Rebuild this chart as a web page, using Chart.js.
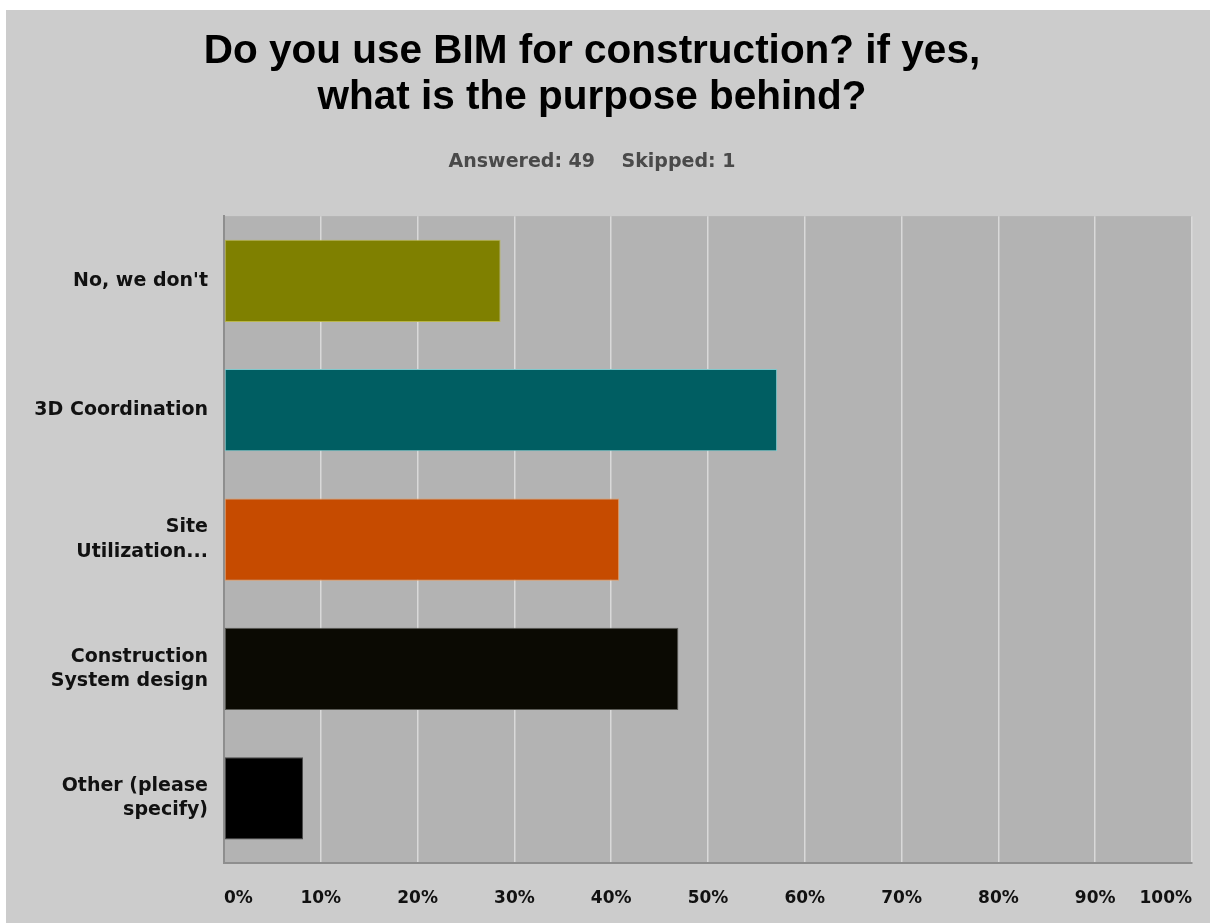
<!DOCTYPE html>
<html>
<head>
<meta charset="utf-8">
<title>BIM for construction</title>
<script src="https://cdn.jsdelivr.net/npm/chart.js@4.4.1/dist/chart.umd.min.js"></script>
<style>
  html, body { margin: 0; padding: 0; background: #ffffff; overflow: hidden; }
  #wrap { position: absolute; left: -8px; top: 10px; }
  #chart { display: block; background: #cccccc; }
  /* faixa branca da borda esquerda */
  #borda { position: absolute; left: 0; top: 0; width: 6px; height: 923px; background: #ffffff; }
</style>
</head>
<body>
<div id="wrap"><canvas id="chart" width="1225" height="913"></canvas></div>
<div id="borda"></div>
<script>
// Respostas (percentual de 49 respondentes)
const categorias = [
  "No, we don't",
  "3D Coordination",
  ["Site", "Utilization..."],
  ["Construction", "System design"],
  ["Other (please", "specify)"]
];
const percentuais = [28.57, 57.14, 40.82, 46.94, 8.16];
const coresBarras = ['#7f8000', '#005e62', '#c64b00', '#0b0a03', '#000000'];
const coresBordas = ['#b9b64a', '#7fc8cc', '#e49a62', '#5a5a55', '#4a4a4a'];
const ticksX = [0, 10, 20, 30, 40, 50, 60, 70, 80, 90, 100];

const titulo = ["Do you use BIM for construction? if yes,", "what is the purpose behind?"];
const subtitulo = "Answered: 49    Skipped: 1";

// Fundo cinza escuro só na área do gráfico
const fundoArea = {
  id: 'fundoArea',
  beforeDraw(chart) {
    const { ctx, chartArea: a } = chart;
    ctx.save();
    ctx.fillStyle = '#b3b3b3';
    ctx.fillRect(a.left, a.top, a.right - a.left, a.bottom - a.top);
    ctx.restore();
  }
};

const fonteRotulo = { family: "'DejaVu Sans', Verdana, sans-serif", weight: 'bold' };

new Chart(document.getElementById('chart'), {
  type: 'bar',
  data: {
    labels: categorias,
    datasets: [{
      data: percentuais,
      backgroundColor: coresBarras,
      borderColor: coresBordas,
      borderWidth: 1,
      borderSkipped: false,
      barPercentage: 0.635,
      categoryPercentage: 1
    }]
  },
  options: {
    indexAxis: 'y',
    responsive: false,
    animation: false,
    layout: { padding: { top: 0, right: 25, bottom: 0, left: 0 } },
    scales: {
      x: {
        min: 0,
        max: 100,
        afterBuildTicks: scale => { scale.ticks = ticksX.map(v => ({ value: v })); },
        afterFit: scale => { scale.height = 60; },
        grid: { color: '#d9d9d9', lineWidth: 1.5, drawTicks: false },
        border: { color: '#8e8e8e', width: 2 },
        ticks: {
          align: 'inner',
          padding: 25,
          color: '#111111',
          font: { ...fonteRotulo, size: 17 },
          callback: v => v + '%'
        }
      },
      y: {
        afterFit: scale => { scale.width = 232; },
        grid: { display: false },
        border: { color: '#8e8e8e', width: 2 },
        ticks: {
          padding: 8,
          color: '#111111',
          font: { ...fonteRotulo, size: 19, lineHeight: 1.27 }
        }
      }
    },
    plugins: {
      legend: { display: false },
      tooltip: { enabled: false },
      title: {
        display: true,
        text: titulo,
        color: '#000000',
        font: { family: "'Liberation Sans', Arial, sans-serif", weight: 'bold', size: 40.5, lineHeight: 1.14 },
        padding: { top: 19, bottom: 29 }
      },
      subtitle: {
        display: true,
        text: subtitulo,
        color: '#4a4a4a',
        font: { ...fonteRotulo, size: 19, lineHeight: 1.2 },
        padding: { top: 0, bottom: 43 }
      }
    }
  },
  plugins: [fundoArea]
});
</script>
</body>
</html>
